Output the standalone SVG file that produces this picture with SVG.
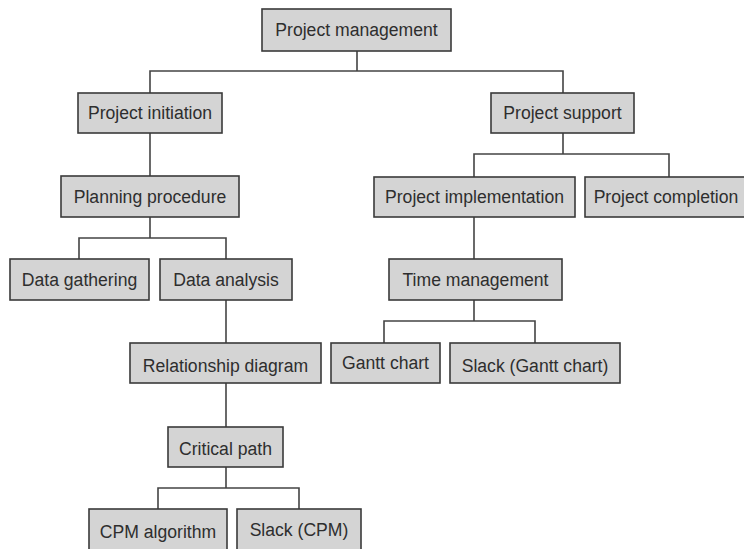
<svg xmlns="http://www.w3.org/2000/svg" width="744" height="549" viewBox="0 0 744 549">
<style>
.box{fill:#d4d4d4;stroke:#3a3a3a;stroke-width:1.6}
.lbl{font-family:"Liberation Sans",Arial,sans-serif;font-size:17.6px;fill:#2e2e2e;text-anchor:middle}
.conn{fill:none;stroke:#444;stroke-width:1.6}
</style>
<rect width="744" height="549" fill="#fff"/>
<g id="connectors" class="conn">
<path d="M357,51 V71 M150,93 V71 H563 V93"/>
<path d="M150,133 V176"/>
<path d="M150,217 V238 M79,259 V238 H226 V259"/>
<path d="M563,133 V154 M474,177 V154 H669 V177"/>
<path d="M474,217 V259"/>
<path d="M474,300 V321 M384,343 V321 H535 V343"/>
<path d="M226,300 V343"/>
<path d="M226,383 V427"/>
<path d="M226,467 V488 M158,509 V488 H299 V509"/>
</g>
<g id="n-pm"><rect class="box" x="262" y="9" width="189" height="42"/><text class="lbl" x="356.5" y="36">Project management</text></g>
<g id="n-pi"><rect class="box" x="78" y="93" width="144" height="40"/><text class="lbl" x="150" y="119">Project initiation</text></g>
<g id="n-ps"><rect class="box" x="491" y="93" width="143" height="40"/><text class="lbl" x="562.5" y="119">Project support</text></g>
<g id="n-pp"><rect class="box" x="61" y="176" width="178" height="41"/><text class="lbl" x="150" y="203">Planning procedure</text></g>
<g id="n-dg"><rect class="box" x="10" y="259" width="139" height="41"/><text class="lbl" x="79.5" y="286">Data gathering</text></g>
<g id="n-da"><rect class="box" x="160" y="259" width="132" height="41"/><text class="lbl" x="226" y="286">Data analysis</text></g>
<g id="n-pim"><rect class="box" x="374" y="177" width="201" height="40"/><text class="lbl" x="474.5" y="203">Project implementation</text></g>
<g id="n-pc"><rect class="box" x="585" y="177" width="170" height="40"/><text class="lbl" x="666" y="203">Project completion</text></g>
<g id="n-tm"><rect class="box" x="389" y="259" width="173" height="41"/><text class="lbl" x="475.5" y="286">Time management</text></g>
<g id="n-gc"><rect class="box" x="331" y="343" width="109" height="40"/><text class="lbl" x="385.5" y="369">Gantt chart</text></g>
<g id="n-sg"><rect class="box" x="450" y="343" width="170" height="40"/><text class="lbl" x="535" y="372">Slack (Gantt chart)</text></g>
<g id="n-rd"><rect class="box" x="130" y="343" width="191" height="40"/><text class="lbl" x="225.5" y="372">Relationship diagram</text></g>
<g id="n-cp"><rect class="box" x="168" y="427" width="115" height="40"/><text class="lbl" x="225.5" y="455">Critical path</text></g>
<g id="n-cpm"><rect class="box" x="89" y="509" width="138" height="48"/><text class="lbl" x="158" y="538">CPM algorithm</text></g>
<g id="n-sc"><rect class="box" x="237" y="509" width="124" height="48"/><text class="lbl" x="299" y="536">Slack (CPM)</text></g>
</svg>
